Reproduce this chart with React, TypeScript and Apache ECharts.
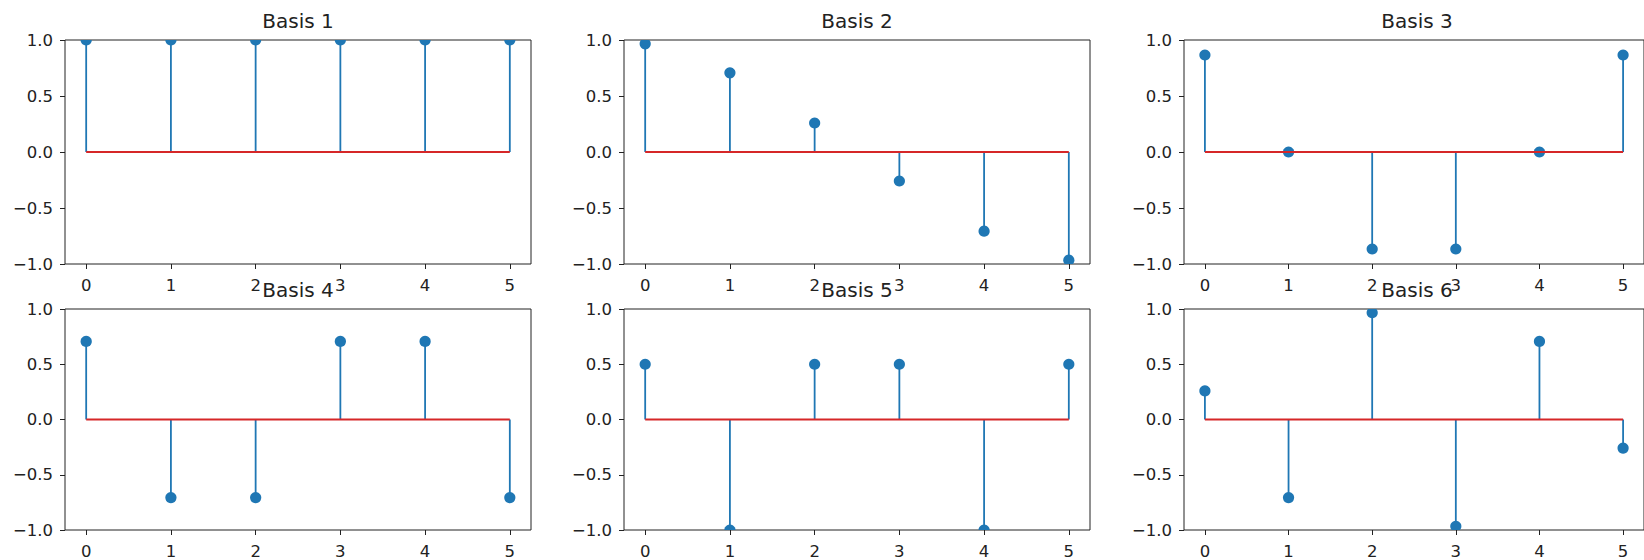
import React, { useEffect, useRef } from "react";
import * as echarts from "echarts";

const XS = [0, 1, 2, 3, 4, 5];
const X_TICKS = [0, 1, 2, 3, 4, 5];
const TITLES = ["Basis 1", "Basis 2", "Basis 3", "Basis 4", "Basis 5", "Basis 6"];
const BASIS_1 = [1, 1, 1, 1, 1, 1];
const BASIS_2 = [0.966, 0.707, 0.259, -0.259, -0.707, -0.966];
const BASIS_3 = [0.866, 0.0, -0.866, -0.866, 0.0, 0.866];
const BASIS_4 = [0.707, -0.707, -0.707, 0.707, 0.707, -0.707];
const BASIS_5 = [0.5, -1.0, 0.5, 0.5, -1.0, 0.5];
const BASIS_6 = [0.259, -0.707, 0.966, -0.966, 0.707, -0.259];
const ALL_BASES = [BASIS_1, BASIS_2, BASIS_3, BASIS_4, BASIS_5, BASIS_6];

const FONT = "DejaVu Sans";
const BLUE = "#1f77b4";
const RED = "#d62728";
const INK = "#222";

const COL_LEFT = [65, 624, 1184];
const ROW_TOP = [40, 309];
const PLOT_W = 466;
const PLOT_H = 224;
const TITLE_Y = [21, 290];

const fmtY = (v: number) => (v < 0 ? "\u2212" : "") + Math.abs(v).toFixed(1);

export default function App() {
  const ref = useRef<HTMLDivElement>(null);
  useEffect(() => {
    if (!ref.current) return;
    const chart = echarts.init(ref.current, undefined, { renderer: "svg" });
    const grids: any[] = [];
    const xAxes: any[] = [];
    const yAxes: any[] = [];
    const series: any[] = [];
    const graphics: any[] = [];
    ALL_BASES.forEach((vals, i) => {
      const row = Math.floor(i / 3);
      const col = i % 3;
      grids.push({
        left: COL_LEFT[col],
        top: ROW_TOP[row],
        width: PLOT_W,
        height: PLOT_H,
        show: true,
        borderColor: INK,
        borderWidth: 1,
        backgroundColor: "transparent",
        containLabel: false,
      });
      xAxes.push({
        type: "value",
        gridIndex: i,
        position: "bottom",
        min: -0.25,
        max: 5.25,
        axisLine: { show: false, onZero: false },
        splitLine: { show: false },
        axisTick: {
          show: true,
          customValues: X_TICKS,
          length: 5,
          lineStyle: { color: INK, width: 1 },
        },
        axisLabel: {
          customValues: X_TICKS,
          formatter: (v: number) => String(v),
          fontSize: 16.5,
          color: INK,
          margin: 13,
          fontFamily: FONT,
        },
      });
      yAxes.push({
        type: "value",
        gridIndex: i,
        position: "left",
        min: -1,
        max: 1,
        interval: 0.5,
        axisLine: { show: false, onZero: false },
        splitLine: { show: false },
        axisTick: { show: true, length: 5, lineStyle: { color: INK, width: 1 } },
        axisLabel: {
          formatter: fmtY,
          fontSize: 16.5,
          color: INK,
          margin: 12,
          fontFamily: FONT,
          showMinLabel: true,
          showMaxLabel: true,
        },
      });
      const data = XS.map((x, k) => [x, vals[k]]);
      series.push({
        type: "custom",
        xAxisIndex: i,
        yAxisIndex: i,
        clip: true,
        z: 2,
        data,
        renderItem: (_p: any, api: any) => {
          const x = api.value(0);
          const y = api.value(1);
          const top = api.coord([x, y]);
          const base = api.coord([x, 0]);
          return {
            type: "line",
            shape: { x1: base[0], y1: base[1], x2: top[0], y2: top[1] },
            style: { stroke: BLUE, lineWidth: 1.8 },
          };
        },
      });
      series.push({
        type: "custom",
        xAxisIndex: i,
        yAxisIndex: i,
        clip: true,
        z: 3,
        data,
        renderItem: (_p: any, api: any) => {
          const pt = api.coord([api.value(0), api.value(1)]);
          return {
            type: "circle",
            shape: { cx: pt[0], cy: pt[1], r: 5.6 },
            style: { fill: BLUE },
          };
        },
      });
      series.push({
        type: "line",
        xAxisIndex: i,
        yAxisIndex: i,
        z: 4,
        symbol: "none",
        silent: true,
        data: [
          [XS[0], 0],
          [XS[XS.length - 1], 0],
        ],
        lineStyle: { color: RED, width: 1.8 },
      });
      graphics.push({
        type: "text",
        x: COL_LEFT[col] + PLOT_W / 2,
        y: TITLE_Y[row],
        style: {
          text: TITLES[i],
          fontSize: 20,
          fontFamily: FONT,
          fill: INK,
          align: "center",
          verticalAlign: "middle",
        },
      });
    });
    chart.setOption({
      animation: false,
      backgroundColor: "#fff",
      grid: grids,
      xAxis: xAxes,
      yAxis: yAxes,
      series,
      graphic: graphics,
    });
    return () => chart.dispose();
  }, []);
  return (
    <div
      ref={ref}
      style={{ position: "absolute", left: 0, top: 0, width: 1644, height: 560 }}
    />
  );
}
